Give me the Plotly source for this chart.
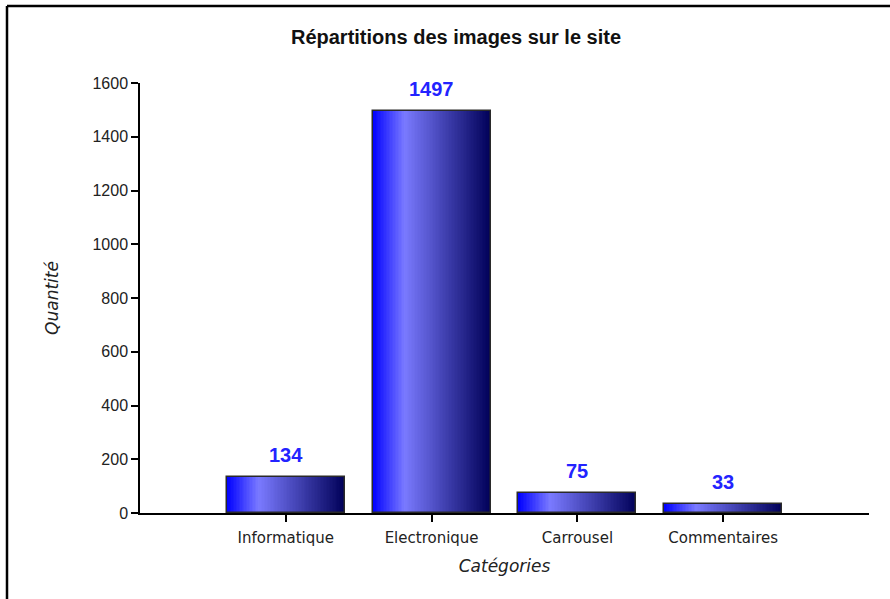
import plotly.graph_objects as go

# ---- data ----
categories = ["Informatique", "Electronique", "Carrousel", "Commentaires"]
quantities = [134, 1497, 75, 33]
y_ticks = [0, 200, 400, 600, 800, 1000, 1200, 1400, 1600]
title_text = "Répartitions des images sur le site"
x_title = "Catégories"
y_title = "Quantité"

# ---- layout constants ----
W, H = 890, 599
ML, MR, MT, MB = 140, 21, 83, 86
BAR_W = 0.81
N_SLICES = 80


def grad_color(t):
    # light highlight at ~27% then darkening towards navy
    c0, c1, c2 = (0, 0, 255), (122, 122, 255), (0, 0, 88)
    p = 0.27
    if t <= p:
        f = t / p
        a, b = c0, c1
    else:
        f = (t - p) / (1 - p)
        a, b = c1, c2
    r, g, bl = (round(a[i] + (b[i] - a[i]) * f) for i in range(3))
    return f"rgb({r},{g},{bl})"


fig = go.Figure()
sw = BAR_W / N_SLICES
for k in range(N_SLICES):
    t = (k + 0.5) / N_SLICES
    w = sw * (2.0 if k < N_SLICES - 1 else 1.0)
    fig.add_trace(go.Bar(
        x=categories, y=quantities,
        offset=-BAR_W / 2 + k * sw, width=w,
        marker=dict(color=grad_color(t), line=dict(width=0)),
        showlegend=False, hoverinfo="skip",
    ))

# outline
fig.add_trace(go.Bar(
    x=categories, y=quantities, width=BAR_W,
    marker=dict(color="rgba(0,0,0,0)", line=dict(color="#2a2a2a", width=1.5)),
    showlegend=False, hoverinfo="x+y",
))

# value labels
for c, v in zip(categories, quantities):
    fig.add_annotation(
        x=c, y=v, text=str(v), showarrow=False,
        yanchor="middle", yshift=22,
        font=dict(family="Liberation Sans, Arial", size=20, color="#2323ff", weight="bold"),
    )

# end tick on the category axis
fig.add_shape(type="line", xref="x", yref="y", x0=len(categories), x1=len(categories),
              ysizemode="pixel", yanchor=0, y0=0, y1=-7,
              line=dict(color="black", width=1.5))

# outer frame (top and left edges)
pw = W - ML - MR
ph = H - MT - MB
def px_to_paper_x(px):
    return (px - ML) / pw
def px_to_paper_y(py):
    return (H - MB - py) / ph

fig.add_shape(type="line", xref="paper", yref="paper",
              x0=px_to_paper_x(7), x1=px_to_paper_x(W + 2),
              y0=px_to_paper_y(6), y1=px_to_paper_y(6),
              line=dict(color="black", width=2.5))
fig.add_shape(type="line", xref="paper", yref="paper",
              x0=px_to_paper_x(7), x1=px_to_paper_x(7),
              y0=px_to_paper_y(6), y1=px_to_paper_y(H + 2),
              line=dict(color="black", width=2.5))

fig.update_layout(
    width=W, height=H,
    margin=dict(l=ML, r=MR, t=MT, b=MB),
    paper_bgcolor="white", plot_bgcolor="white",
    barmode="overlay",
    bargap=0,
    title=dict(text=title_text, x=456 / W, xanchor="center",
               y=1 - 37 / H, yanchor="middle",
               font=dict(family="Liberation Sans, Arial", size=20, color="#111111", weight="bold")),
    xaxis=dict(
        type="category", range=[-1, len(categories)],
        showline=True, linecolor="black", linewidth=1.5,
        ticks="outside", ticklen=7, tickwidth=1.5, tickcolor="black",
        ticklabelstandoff=3,
        showgrid=False, zeroline=False,
        tickfont=dict(family="DejaVu Sans", size=15, color="#222222"),
        title=dict(text=x_title, standoff=14,
                   font=dict(family="DejaVu Sans", size=17, color="#222222", style="italic")),
    ),
    yaxis=dict(
        range=[0, 1600], tickmode="array", tickvals=y_ticks,
        showline=True, linecolor="black", linewidth=1.5,
        ticks="outside", ticklen=7, tickwidth=1.5, tickcolor="black",
        showgrid=False, zeroline=False,
        tickfont=dict(family="Liberation Sans, Arial", size=16, color="#222222"),
        title=dict(text=y_title, standoff=30,
                   font=dict(family="DejaVu Sans", size=17, color="#222222", style="italic")),
    ),
)

fig.write_html("out.html", config={"displayModeBar": False},
               post_script="document.body.style.margin='0';")
